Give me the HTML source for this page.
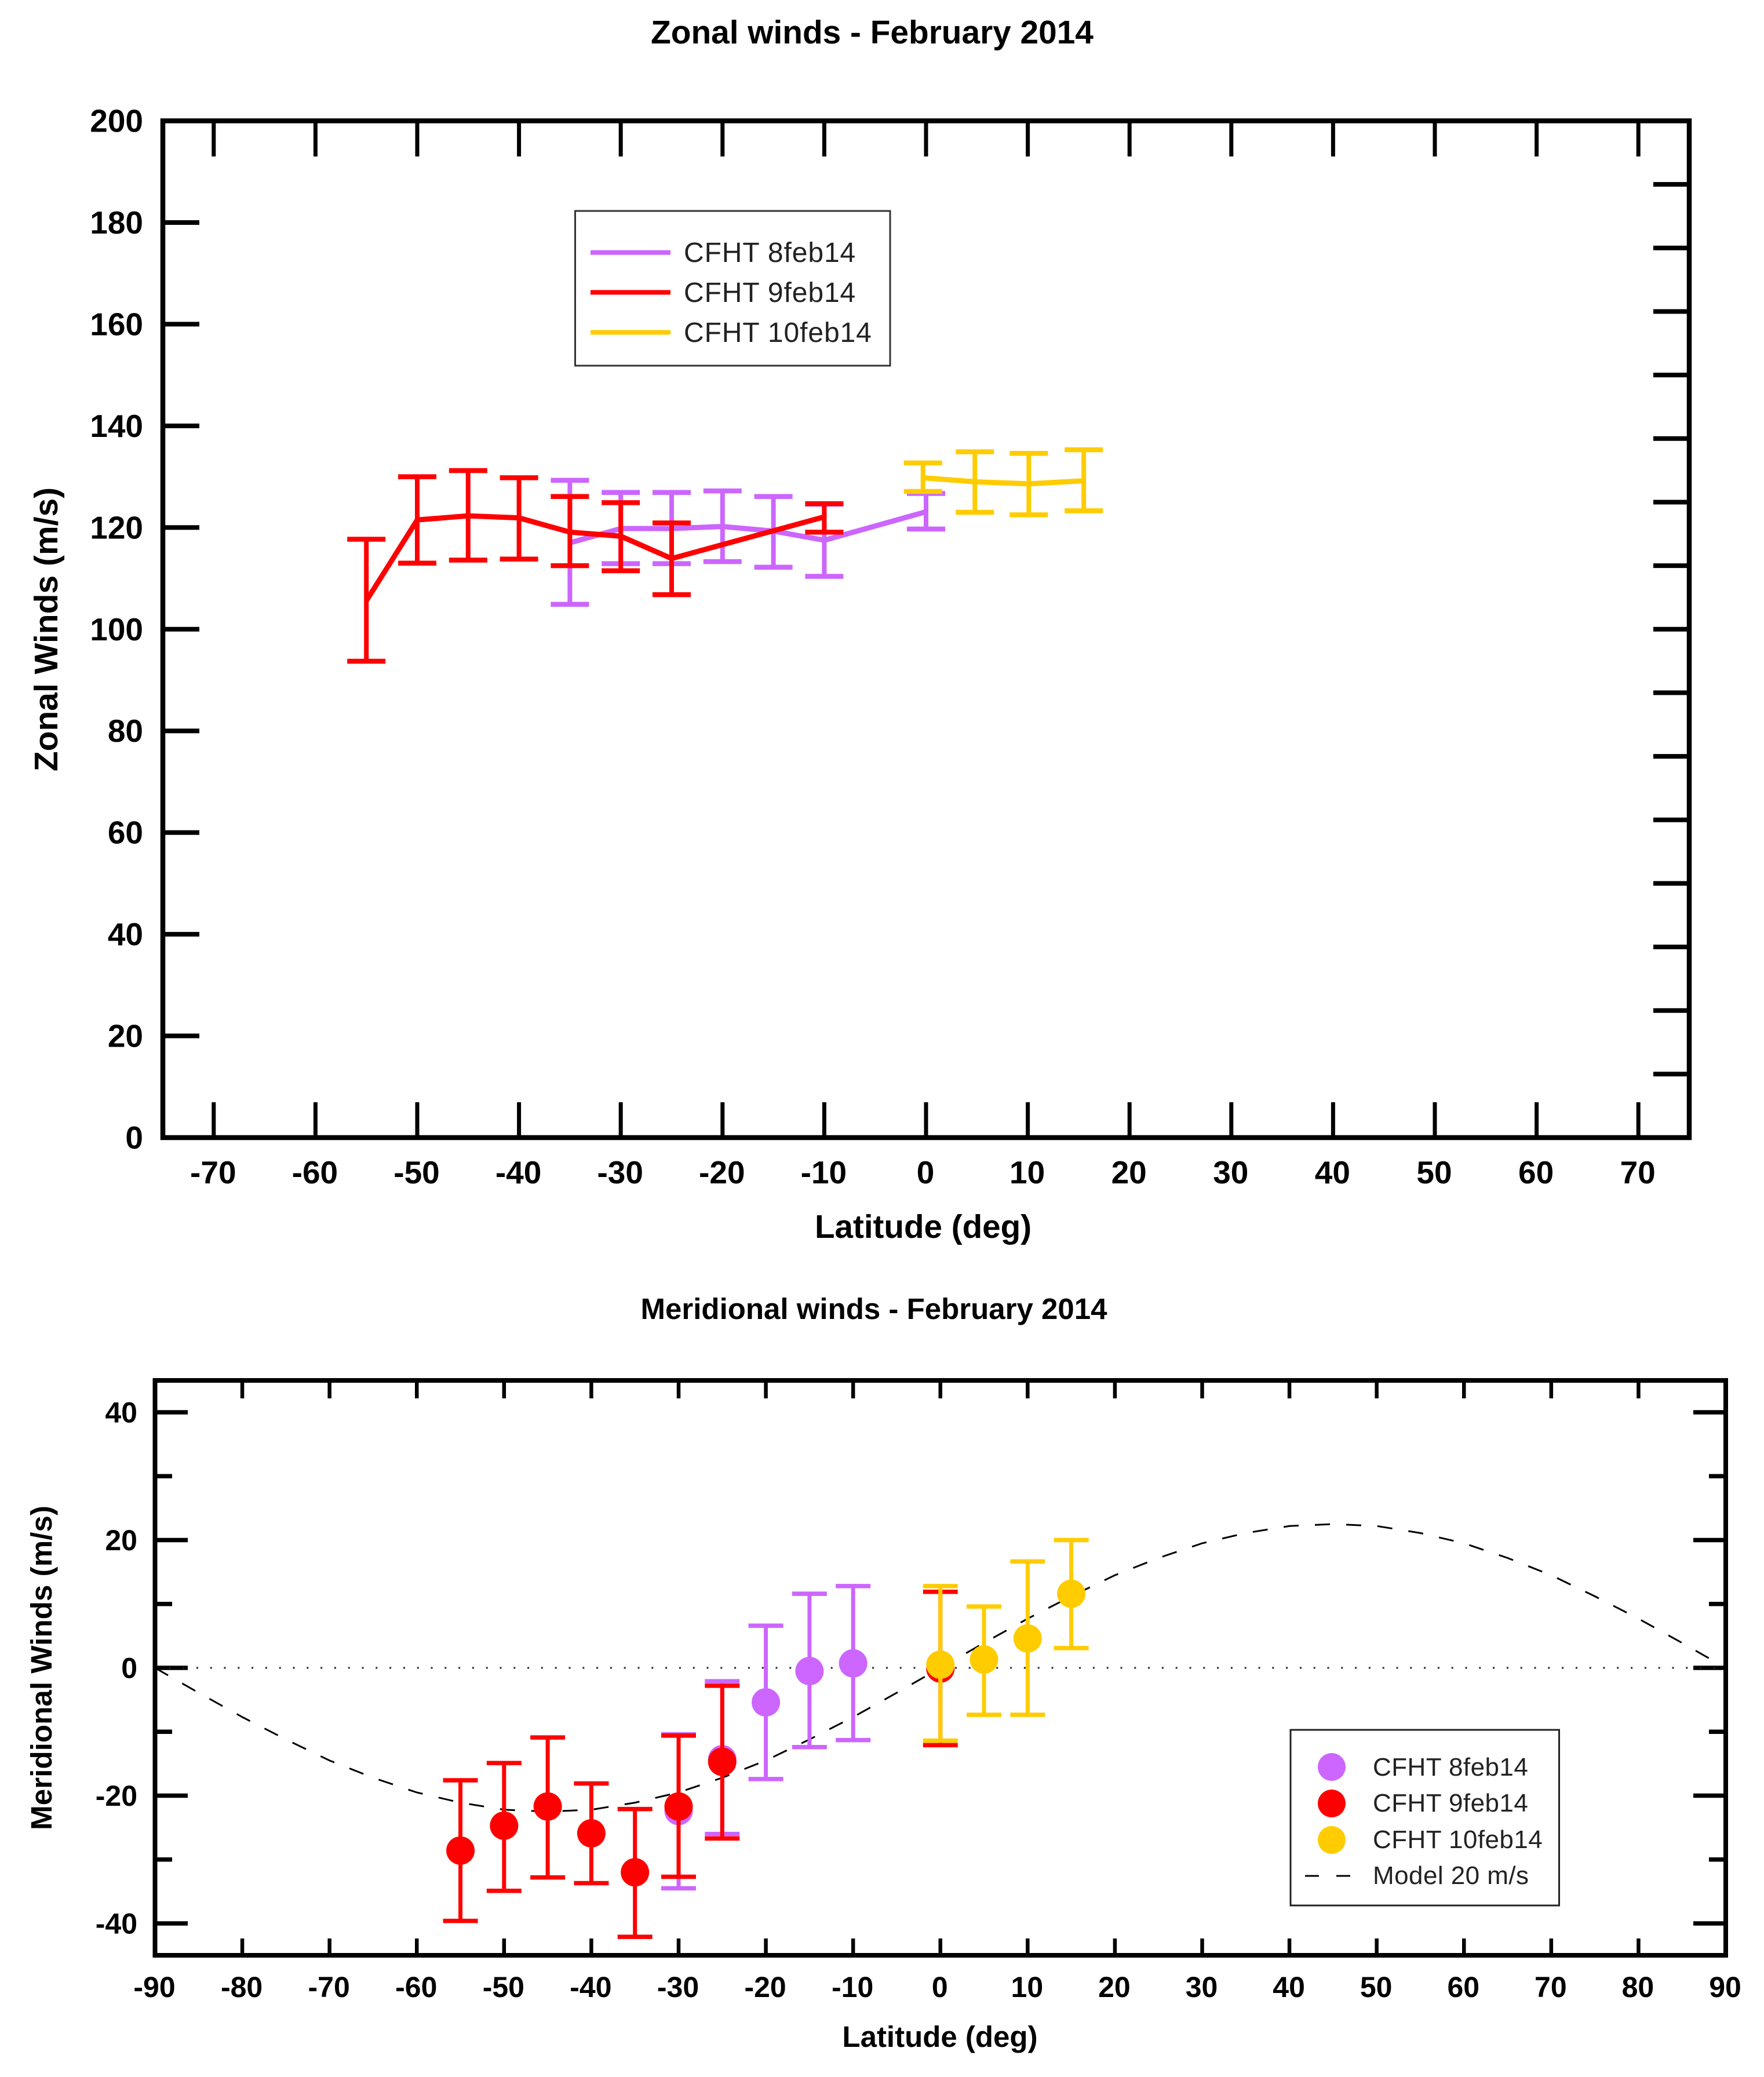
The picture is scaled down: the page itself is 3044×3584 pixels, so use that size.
<!DOCTYPE html>
<html lang="en">
<head>
<meta charset="utf-8">
<title>Zonal and meridional winds - February 2014</title>
<style>
html,body{margin:0;padding:0;background:#fff;}
svg{display:block;}
text{font-family:"Liberation Sans",sans-serif;}
.b{font-weight:bold;fill:#000;}
.leg{fill:#222;}
</style>
</head>
<body>
<svg id="chart" xmlns="http://www.w3.org/2000/svg" width="3044" height="3584" viewBox="0 0 3044 3584">
  <rect x="0" y="0" width="3044" height="3584" fill="#fff"/>

  <text class="b" x="1505" y="75" font-size="56.8" text-anchor="middle">Zonal winds - February 2014</text>
  <text class="b" transform="translate(99,1086) rotate(-90)" font-size="57" text-anchor="middle">Zonal Winds (m/s)</text>
  <text class="b" x="1593" y="2136" font-size="56.6" text-anchor="middle">Latitude (deg)</text>
  <g id="zonal-axes"></g>
  <g id="zonal-marks"></g>

  <g>
    <rect x="992.5" y="364" width="543.5" height="267" fill="#fff" stroke="#333" stroke-width="3"/>
    <line x1="1019" x2="1157" y1="435.7" y2="435.7" stroke="#CC66FF" stroke-width="8"/>
    <line x1="1019" x2="1157" y1="504.5" y2="504.5" stroke="#FF0000" stroke-width="8"/>
    <line x1="1019" x2="1157" y1="573.5" y2="573.5" stroke="#FFCC00" stroke-width="8"/>
    <text class="leg" x="1180" y="452" font-size="48" letter-spacing="0.9">CFHT 8feb14</text>
    <text class="leg" x="1180" y="521" font-size="48" letter-spacing="0.9">CFHT 9feb14</text>
    <text class="leg" x="1180" y="590" font-size="48" letter-spacing="0.9">CFHT 10feb14</text>
  </g>

  <text class="b" x="1508" y="2276" font-size="51" text-anchor="middle">Meridional winds - February 2014</text>
  <text class="b" transform="translate(89,2878) rotate(-90)" font-size="51.2" text-anchor="middle">Meridional Winds (m/s)</text>
  <text class="b" x="1622" y="3532" font-size="51" text-anchor="middle">Latitude (deg)</text>
  <g id="merid-axes"></g>
  <g id="merid-marks"></g>

  <g>
    <rect x="2227" y="2985" width="463.5" height="303" fill="#fff" stroke="#222" stroke-width="3"/>
    <circle cx="2298" cy="3049" r="24" fill="#CC66FF"/>
    <circle cx="2298" cy="3112" r="24" fill="#FF0000"/>
    <circle cx="2298" cy="3175" r="24" fill="#FFCC00"/>
    <line x1="2252" x2="2330" y1="3237" y2="3237" stroke="#000" stroke-width="3" stroke-dasharray="24 30"/>
    <text class="leg" x="2369" y="3064" font-size="44" letter-spacing="0.45">CFHT 8feb14</text>
    <text class="leg" x="2369" y="3126" font-size="44" letter-spacing="0.45">CFHT 9feb14</text>
    <text class="leg" x="2369" y="3189" font-size="44" letter-spacing="0.45">CFHT 10feb14</text>
    <text class="leg" x="2369" y="3251" font-size="44" letter-spacing="0.45">Model 20 m/s</text>
  </g>
</svg>

<script>
// ---------- Zonal winds data (m/s) ----------
const zonalLat8 = [-35, -30, -25, -20, -15, -10, 0];
const zonalWind8 = [117.0, 119.8, 119.8, 120.2, 119.3, 117.5, 123.1];
const zonalHigh8 = [129.3, 126.9, 126.9, 127.2, 126.1, 124.6, 126.7];
const zonalLow8 = [104.9, 112.9, 112.9, 113.3, 112.2, 110.4, 119.7];

const zonalLat9 = [-55, -50, -45, -40, -35, -30, -25, -10];
const zonalWind9 = [105.6, 121.5, 122.3, 121.9, 119.1, 118.3, 113.9, 122.1];
const zonalHigh9 = [117.7, 130.0, 131.2, 129.8, 126.1, 124.9, 120.9, 124.7];
const zonalLow9 = [93.7, 113.0, 113.6, 113.8, 112.5, 111.5, 106.8, 119.1];

const zonalLat10 = [-0.3, 4.8, 10.1, 15.5];
const zonalWind10 = [129.8, 129.0, 128.6, 129.2];
const zonalHigh10 = [132.7, 134.9, 134.6, 135.3];
const zonalLow10 = [127.1, 123.0, 122.5, 123.3];

const zonalXTicks = [-70, -60, -50, -40, -30, -20, -10, 0, 10, 20, 30, 40, 50, 60, 70];
const zonalYTicks = [0, 20, 40, 60, 80, 100, 120, 140, 160, 180, 200];
const zonalRightTicks = [12.5, 25, 37.5, 50, 62.5, 75, 87.5, 100, 112.5, 125, 137.5, 150, 162.5, 175, 187.5];

// ---------- Meridional winds data (m/s) ----------
const meridLat8 = [-30, -25, -20, -15, -10];
const meridWind8 = [-22.4, -14.3, -5.4, -0.5, 0.7];
const meridHigh8 = [-10.4, -2.1, 6.6, 11.6, 12.8];
const meridLow8 = [-34.5, -26.0, -17.4, -12.4, -11.3];

const meridLat9 = [-55, -50, -45, -40, -35, -30, -25, 0];
const meridWind9 = [-28.6, -24.7, -21.7, -25.9, -32.0, -21.7, -14.7, -0.1];
const meridHigh9 = [-17.6, -14.9, -10.9, -18.1, -22.1, -10.6, -2.8, 11.9];
const meridLow9 = [-39.6, -34.9, -32.8, -33.7, -42.1, -32.7, -26.7, -12.1];

const meridLat10 = [0, 5, 10, 15];
const meridWind10 = [0.5, 1.3, 4.6, 11.6];
const meridHigh10 = [12.8, 9.6, 16.65, 20.0];
const meridLow10 = [-11.4, -7.35, -7.35, 3.1];

const modelLat = [-90, -85, -80, -75, -70, -65, -60, -55, -50, -45, -40, -35, -30, -25, -20, -15, -10, -5, 0, 5, 10, 15, 20, 25, 30, 35, 40, 45, 50, 55, 60, 65, 70, 75, 80, 85, 90];
const modelWind = [0, -3.9, -7.7, -11.2, -14.5, -17.2, -19.5, -21.1, -22.2, -22.5, -22.2, -21.1, -19.5, -17.2, -14.5, -11.2, -7.7, -3.9, 0, 3.9, 7.7, 11.2, 14.5, 17.2, 19.5, 21.1, 22.2, 22.5, 22.2, 21.1, 19.5, 17.2, 14.5, 11.2, 7.7, 3.9, 0];

const meridXTicks = [-90, -80, -70, -60, -50, -40, -30, -20, -10, 0, 10, 20, 30, 40, 50, 60, 70, 80, 90];
const meridYMajor = [-40, -20, 0, 20, 40];
const meridYMinor = [-30, -10, 10, 30];

// ---------- Axis functions ----------
function zonalX(lat) { return 281 + (lat + 75) / 150 * 2634; }
function zonalY(v) { return 1963 - v / 200 * 1754.5; }
function meridX(lat) { return 267.5 + (lat + 90) / 180 * 2710.5; }
function meridY(v) { return 2878 - v * 11.025; }

const NS = 'http://www.w3.org/2000/svg';
const PURPLE = '#CC66FF', RED = '#FF0000', YELLOW = '#FFCC00';

function make(tag, parent, props) {
  const el = document.createElementNS(NS, tag);
  for (const k in props) el.setAttribute(k, props[k]);
  parent.appendChild(el);
  return el;
}
function tick(parent, x1, y1, x2, y2, w, name) {
  const el = make('line', parent, { x1: x1, y1: y1, x2: x2, y2: y2, stroke: '#000', 'stroke-width': w });
  
  
}
function label(parent, x, y, size, anchor, txt, name) {
  const el = make('text', parent, { x: x, y: y, 'font-size': size, 'text-anchor': anchor, class: 'b' });
  el.textContent = txt;
  
  
}

// Draw one error-bar series; capHalf/barW/capW are styling only
function errorBars(parent, xf, yf, lats, highs, lows, color, capHalf, barW, capW, name) {
  lats.forEach(function (lat, i) {
    const g = make('g', parent, {});
    
    
    const x = xf(lat), t = yf(highs[i]), b = yf(lows[i]);
    make('line', g, { x1: x, x2: x, y1: t, y2: b, stroke: color, 'stroke-width': barW });
    make('line', g, { x1: x - capHalf, x2: x + capHalf, y1: t, y2: t, stroke: color, 'stroke-width': capW });
    make('line', g, { x1: x - capHalf, x2: x + capHalf, y1: b, y2: b, stroke: color, 'stroke-width': capW });
  });
}
function seriesLine(parent, lats, vals, color, name) {
  const pts = lats.map(function (lat, i) { return zonalX(lat) + ',' + zonalY(vals[i]); }).join(' ');
  const el = make('polyline', parent, { points: pts, fill: 'none', stroke: color, 'stroke-width': 9, 'stroke-linejoin': 'round' });
  
  
}
function points(parent, lats, vals, color, name) {
  lats.forEach(function (lat, i) {
    const el = make('circle', parent, { cx: meridX(lat), cy: meridY(vals[i]), r: 24.5, fill: color });
    
    
  });
}

// ---------- Zonal chart ----------
const za = document.getElementById('zonal-axes');
const zm = document.getElementById('zonal-marks');
zonalXTicks.forEach(function (t) {
  const x = zonalX(t);
  tick(za, x, 208, x, 270, 7, 'zonal-x-tick-top');
  tick(za, x, 1963, x, 1902, 7, 'zonal-x-tick-bottom');
  label(za, x - 1, 2042, 55, 'middle', String(t), 'zonal-x-tick-label');
});
zonalYTicks.forEach(function (t) {
  const y = zonalY(t);
  tick(za, 281, y, 344, y, 8, 'zonal-y-tick-left');
  label(za, 247, y + 19, 55, 'end', String(t), 'zonal-y-tick-label');
});
zonalRightTicks.forEach(function (t) {
  const y = zonalY(t);
  tick(za, 2853, y, 2915, y, 8, 'zonal-y-tick-right');
});
const zonalFrame = make('rect', za, { x: 281, y: 208.5, width: 2634, height: 1754.5, fill: 'none', stroke: '#000', 'stroke-width': 8.5 });



errorBars(zm, zonalX, zonalY, zonalLat8, zonalHigh8, zonalLow8, PURPLE, 33, 8, 8.5, 'zonal-8feb');
seriesLine(zm, zonalLat8, zonalWind8, PURPLE, 'zonal-line-8feb');
errorBars(zm, zonalX, zonalY, zonalLat9, zonalHigh9, zonalLow9, RED, 33, 8, 8.5, 'zonal-9feb');
seriesLine(zm, zonalLat9, zonalWind9, RED, 'zonal-line-9feb');
errorBars(zm, zonalX, zonalY, zonalLat10, zonalHigh10, zonalLow10, YELLOW, 33, 8, 8.5, 'zonal-10feb');
seriesLine(zm, zonalLat10, zonalWind10, YELLOW, 'zonal-line-10feb');

// ---------- Meridional chart ----------
const ma = document.getElementById('merid-axes');
const mm = document.getElementById('merid-marks');
meridXTicks.forEach(function (t) {
  const x = meridX(t);
  if (t !== -90 && t !== 90) {
    tick(ma, x, 2382, x, 2413, 6.5, 'meridional-x-tick-top');
    tick(ma, x, 3374, x, 3345, 6.5, 'meridional-x-tick-bottom');
  }
  label(ma, x - 1, 3446, 50, 'middle', String(t), 'meridional-x-tick-label');
});
meridYMajor.forEach(function (t) {
  const y = meridY(t);
  tick(ma, 267.5, y, 324, y, 7.5, 'meridional-y-tick-left');
  tick(ma, 2922, y, 2978, y, 7.5, 'meridional-y-tick-right');
  label(ma, 237, y + 17.5, 50, 'end', String(t), 'meridional-y-tick-label');
});
meridYMinor.forEach(function (t) {
  const y = meridY(t);
  tick(ma, 267.5, y, 297, y, 7.5, 'meridional-y-minor-tick-left');
  tick(ma, 2949, y, 2978, y, 7.5, 'meridional-y-minor-tick-right');
});
const meridFrame = make('rect', ma, { x: 267.5, y: 2382, width: 2710.5, height: 992, fill: 'none', stroke: '#000', 'stroke-width': 8 });



const zeroLine = make('line', mm, { x1: meridX(-90), x2: meridX(90), y1: meridY(0), y2: meridY(0), stroke: '#222', 'stroke-width': 3, 'stroke-dasharray': '3 20.8' });



const modelPts = modelLat.map(function (lat, i) { return meridX(lat) + ',' + meridY(modelWind[i]); }).join(' ');
const modelCurve = make('polyline', mm, { points: modelPts, fill: 'none', stroke: '#000', 'stroke-width': 3, 'stroke-dasharray': '26 28' });



errorBars(mm, meridX, meridY, meridLat8, meridHigh8, meridLow8, PURPLE, 30, 7, 7.5, 'meridional-8feb');
points(mm, meridLat8, meridWind8, PURPLE, 'meridional-point-8feb');
errorBars(mm, meridX, meridY, meridLat9, meridHigh9, meridLow9, RED, 30, 7, 7.5, 'meridional-9feb');
points(mm, meridLat9, meridWind9, RED, 'meridional-point-9feb');
errorBars(mm, meridX, meridY, meridLat10, meridHigh10, meridLow10, YELLOW, 30, 7, 7.5, 'meridional-10feb');
points(mm, meridLat10, meridWind10, YELLOW, 'meridional-point-10feb');
</script>
</body>
</html>
